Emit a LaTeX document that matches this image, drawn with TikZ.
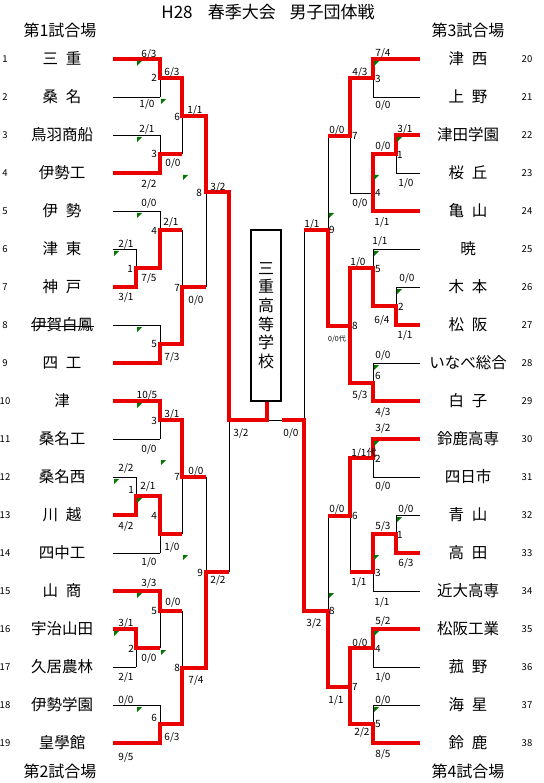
\documentclass[tikz,border=0pt]{standalone}
\usepackage{fontspec}
\setmainfont{Noto Sans CJK JP}
\begin{document}
\begin{tikzpicture}[x=1pt,y=-1pt,
  bk/.style={line width=0.9pt,black},
  rd/.style={line width=3.6pt,color={rgb,255:red,235;green,0;blue,0},line join=miter},
  gt/.style={fill={rgb,255:red,0;green,120;blue,0}},
  sc/.style={font=\fontsize{10}{10}\selectfont,inner sep=0pt,text height=7.2pt,text depth=0pt},
  scs/.style={font=\fontsize{7}{7}\selectfont,inner sep=0pt,text height=5pt,text depth=0pt},
  tm/.style={font=\fontsize{15.5}{16}\selectfont,inner sep=0pt,text height=13pt,text depth=1.5pt},
  hd/.style={font=\fontsize{16}{16}\selectfont,inner sep=0pt,text height=13.5pt,text depth=1.5pt},
  rn/.style={font=\fontsize{9.5}{10}\selectfont,inner sep=0pt,text height=7pt,text depth=0pt}]
\useasboundingbox (0,0) rectangle (543,783);
\fill[white] (0,0) rectangle (543,783);

% ---------- black bracket lines ----------
\foreach \y/\x in {59/160,97/160,135/160,173/160,211/160,249/136,287/136,325/160,363/160,
  401/160,439/160,477/136,515/136,553/160,591/160,629/136,667/136,705/160,743/160}
  \draw[bk] (113,\y) -- (\x,\y);
\foreach \x/\a/\b/\j/\e in {160/59/97/78/182,160/135/173/154/182,182/78/154/116/206,
  136/249/287/268/160,160/211/268/230/182,160/325/363/344/182,182/230/344/287/206,
  206/116/287/192/229,160/401/439/420/182,136/477/515/496/160,160/496/553/534/182,
  182/420/534/477/206,160/591/648/611/182,136/629/667/648/160,160/705/743/724/182,
  182/611/724/668/206,206/477/668/572/229,229/192/572/420/267}
  \draw[bk] (\x,\a) -- (\x,\b) (\x,\j) -- (\e,\j);
\foreach \y/\x in {59/373,97/373,135/396,173/396,211/373,249/373,287/396,325/396,363/373,
  401/373,439/373,477/373,515/396,553/396,591/373,629/373,667/373,705/373,743/373}
  \draw[bk] (420,\y) -- (\x,\y);
\foreach \x/\a/\b/\j/\e in {373/59/97/78/350,396/135/173/154/373,373/154/211/193/350,
  350/78/193/136/328,396/287/325/306/373,373/249/306/268/350,373/363/401/383/350,
  350/268/383/326/328,328/136/326/230/304,373/439/477/458/350,396/515/553/534/373,
  373/534/591/572/350,350/458/572/516/328,373/629/667/648/350,373/705/743/724/350,
  350/648/724/687/328,328/516/687/611/304,304/230/611/420/267}
  \draw[bk] (\x,\a) -- (\x,\b) (\x,\j) -- (\e,\j);

% ---------- red winner paths ----------
\draw[rd] (113,59) -- (160,59) -- (160,78) -- (182,78) -- (182,116) -- (206,116) -- (206,192)
  -- (229,192) -- (229,420) -- (267,420) -- (267,401);
\draw[rd] (113,173) -- (160,173) -- (160,154) -- (182,154);
\draw[rd] (113,287) -- (136,287) -- (136,268) -- (160,268) -- (160,230) -- (182,230);
\draw[rd] (113,363) -- (160,363) -- (160,344) -- (182,344) -- (182,287) -- (206,287);
\draw[rd] (113,401) -- (160,401) -- (160,420) -- (182,420) -- (182,477) -- (206,477);
\draw[rd] (113,515) -- (136,515) -- (136,496) -- (160,496) -- (160,534) -- (182,534);
\draw[rd] (113,591) -- (160,591) -- (160,611) -- (182,611);
\draw[rd] (113,629) -- (136,629) -- (136,648) -- (160,648);
\draw[rd] (113,743) -- (160,743) -- (160,724) -- (182,724) -- (182,668) -- (206,668)
  -- (206,572) -- (229,572);
\draw[rd] (420,59) -- (373,59) -- (373,78) -- (350,78) -- (350,136) -- (328,136);
\draw[rd] (420,135) -- (396,135) -- (396,154) -- (373,154) -- (373,211) -- (420,211);
\draw[rd] (420,325) -- (396,325) -- (396,306) -- (373,306) -- (373,268) -- (350,268)
  -- (350,383) -- (373,383) -- (373,401) -- (420,401);
\draw[rd] (350,326) -- (328,326) -- (328,230) -- (304,230);
\draw[rd] (420,439) -- (373,439) -- (373,458) -- (350,458) -- (350,516) -- (328,516);
\draw[rd] (420,553) -- (396,553) -- (396,534) -- (373,534) -- (373,572) -- (350,572);
\draw[rd] (420,629) -- (373,629) -- (373,648) -- (350,648) -- (350,724) -- (373,724)
  -- (373,743) -- (420,743);
\draw[rd] (350,687) -- (328,687) -- (328,611) -- (304,611) -- (304,420) -- (282,420);

% ---------- green corner marks ----------
\foreach \x/\y in {136/59,160/97,136/135,182/173,136/211,113/249,136/325,136/401,160/458,
  113/477,136/496,182/553,136/591,113/629,160/648,136/705,
  373/59,396/135,373/173,328/211,373/249,396/287,373/363,373/439,396/515,373/553,
  328/591,373/629,373/705}
  \fill[gt] (\x+1,\y+2) -- (\x+6,\y+2) -- (\x+1,\y+7) -- cycle;

% ---------- centre box ----------
\node[draw,line width=2.6pt,minimum width=30pt,minimum height=171pt,inner sep=0pt,
  font=\fontsize{16}{18.6}\selectfont,align=center] (champ) at (266,315.5)
  {三\\重\\高\\等\\学\\校};

% ---------- headings ----------
\node[font=\fontsize{17}{17}\selectfont,inner sep=0pt] (title) at (268,12)
  {H28\hspace{0.9em}春季大会\hspace{0.8em}男子団体戦};
\node[hd] (h1) at (60,31) {第1試合場};
\node[hd] (h3) at (468,31) {第3試合場};
\node[hd] (h2) at (60,771) {第2試合場};
\node[hd] (h4) at (468,771) {第4試合場};

% ---------- team names ----------
\foreach \t [count=\i] in {三\hspace{0.5em}重,桑\hspace{0.5em}名,鳥羽商船,伊勢工,伊\hspace{0.5em}勢,
  津\hspace{0.5em}東,神\hspace{0.5em}戸,伊賀白鳳,四\hspace{0.5em}工,津,桑名工,桑名西,
  川\hspace{0.5em}越,四中工,山\hspace{0.5em}商,宇治山田,久居農林,伊勢学園,皇學館}
  {\node[tm] (L\i) at (62,{59+38*(\i-1)}) {\t};
   \node[rn] (ln\i) at (5,{59+38*(\i-1)}) {\i};}
\draw[line width=0.8pt] (31,326) -- (94,326);
\foreach \t [count=\i] in {津\hspace{0.5em}西,上\hspace{0.5em}野,津田学園,桜\hspace{0.5em}丘,
  亀\hspace{0.5em}山,暁,木\hspace{0.5em}本,松\hspace{0.5em}阪,いなべ総合,白\hspace{0.5em}子,
  鈴鹿高専,四日市,青\hspace{0.5em}山,高\hspace{0.5em}田,近大高専,松阪工業,菰\hspace{0.5em}野,
  海\hspace{0.5em}星,鈴\hspace{0.5em}鹿}
  {\pgfmathtruncatemacro\n{\i+19}
   \node[tm] (R\i) at (468,{59+38*(\i-1)}) {\t};
   \node[rn] (rn\i) at (527,{59+38*(\i-1)}) {\n};}

% ---------- scores ----------
\foreach \x/\y/\p/\q [count=\i] in {149/54/6/3,172/72/6/3,147/104/1/0,195/110/1/1,147/129/2/1,
  173/163/0/0,149/184/2/2,218/187/3/2,149/203/0/0,171/222/2/1,126/244/2/1,149/278/7/5,
  126/297/3/1,196/300/0/0,172/357/7/3,147/395/10/5,172/414/3/1,241/433/3/2,149/449/0/0,
  126/468/2/2,196/471/0/0,148/486/2/1,126/526/4/2,172/547/1/0,149/562/1/0,218/580/2/2,
  149/583/3/3,173/602/0/0,126/623/3/1,149/658/0/0,126/677/2/1,196/680/7/4,126/700/0/0,
  172/737/6/3,126/757/9/5,
  383/53/7/4,360/72/4/3,383/105/0/0,337/130/0/0,405/129/3/1,383/146/0/0,406/183/1/0,
  360/203/0/0,382/222/1/1,312/224/1/1,380/241/1/1,358/262/1/0,407/278/0/0,382/320/6/4,
  405/335/1/1,383/355/0/0,360/395/5/3,383/412/4/3,383/428/3/2,291/433/0/0,383/486/0/0,
  337/509/0/0,406/509/0/0,383/526/5/3,406/563/6/3,359/582/1/1,382/602/1/1,383/621/5/2,
  314/623/3/2,360/643/0/0,383/677/1/0,383/700/0/0,336/700/1/1,362/732/2/2,383/754/8/5}
  \node[sc] (s\i) at (\x,\y) {\p/\q};
\node[sc] (s1dai) at (364,453) {1/1代};
\node[scs] (s0dai) at (337,339) {0/0代};

% ---------- match numbers ----------
\foreach \x/\y/\t [count=\i] in {154/78/2,177/117/6,154/154/3,199/193/8,154/231/4,130/269/1,
  177/288/7,154/344/5,154/421/3,177/477/7,131/490/1,154/516/4,200/573/9,154/611/5,
  131/649/2,177/668/8,154/718/6}
  \node[sc,anchor=east] (ml\i) at (\x+3,\y) {\t};
\foreach \x/\y/\t [count=\i] in {378/79/3,355/136/7,400/155/1,378/193/4,332/230/9,378/269/5,
  401/307/2,355/326/8,378/376/6,378/459/2,355/516/6,400/535/1,378/573/3,332/611/8,
  378/649/4,355/687/7,378/724/5}
  \node[sc,anchor=west] (mr\i) at (\x-3,\y) {\t};
\end{tikzpicture}
\end{document}
